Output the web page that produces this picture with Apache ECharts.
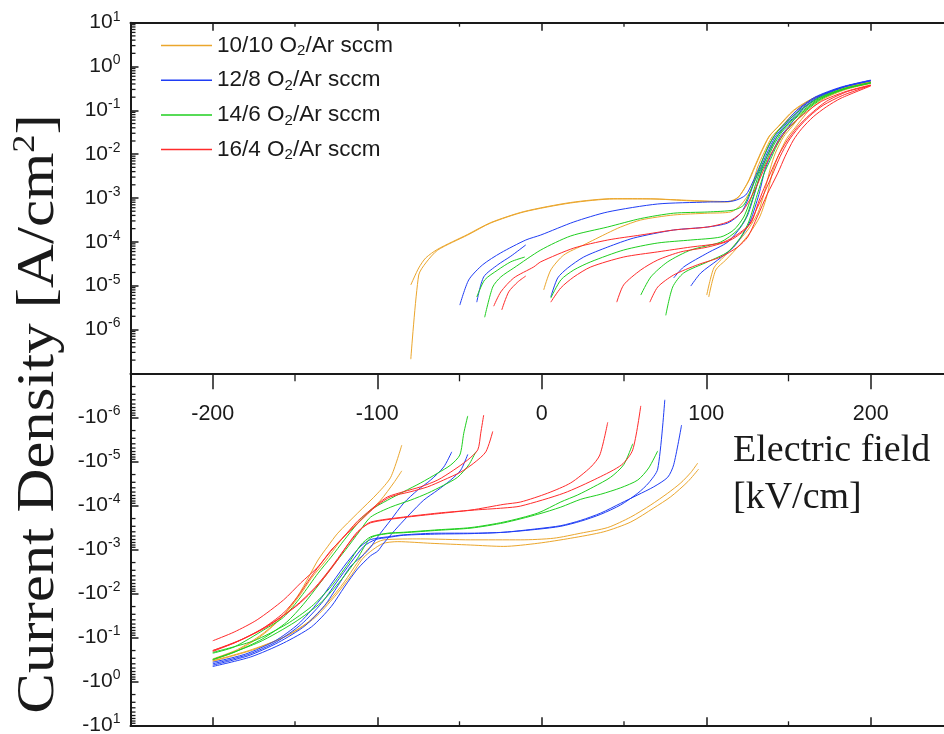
<!DOCTYPE html>
<html>
<head>
<meta charset="utf-8">
<script src="https://cdn.jsdelivr.net/npm/echarts@6/dist/echarts.min.js"></script>
<style>
  html, body { margin: 0; padding: 0; background: #ffffff; }
  #chart { width: 944px; height: 734px; }
</style>
</head>
<body>
<div id="chart"></div>
<script>
// Gas-flow ratios and their trace colours
const ratioNames = ['10/10 O2/Ar sccm', '12/8 O2/Ar sccm', '14/6 O2/Ar sccm', '16/4 O2/Ar sccm'];
const ratioColors = ['#EBA62C', '#1F3DF5', '#1FCF1F', '#FF2B2B'];

// Axis tick values
const xMajorTicks = [-200, -100, 0, 100, 200];
const xMinorTicks = [-150, -50, 50, 150];
const decadeExponents = [-7, -6, -5, -4, -3, -2, -1, 0];
const minorMantissas = [2, 3, 4, 5, 6, 7, 8, 9];

// Positive-current branches: [E (kV/cm), J (A/cm^2)]
const pos1010 = [
  [[-79.6,2.1e-7],[-74.8,1.75e-5],[-70.5,3.3e-5],[-63.2,6.5e-5],[-45,1.43e-4],[-31,2.69e-4],[-10.9,4.8e-4],[17.6,7.7e-4],[43.8,9.5e-4],[66.3,9.5e-4],[90.6,8.6e-4],[113.1,8.1e-4],[119.1,1.0e-3],[125,2.2e-3],[129,4.8e-3],[133,1.06e-2],[138,2.5e-2],[143.5,4.2e-2],[153,0.1],[165,0.19],[182,0.32],[200,0.46]],
  [[-79.6,1.04e-5],[-74.8,2.53e-5],[-70.5,4.3e-5],[-63.2,6.8e-5],[-45,1.48e-4],[-31,2.75e-4],[-10.9,4.9e-4],[17.6,7.9e-4],[43.8,9.7e-4],[66.3,9.6e-4],[90.6,8.8e-4],[113.1,8.3e-4],[119.5,1.05e-3],[125.5,2.3e-3],[129.5,5.0e-3],[133.5,1.1e-2],[138.5,2.6e-2],[144,4.3e-2],[153.5,0.1],[165.5,0.19],[182,0.32],[200,0.45]],
  [[1.2,8.0e-6],[5.5,2.28e-5],[13.4,5.0e-5],[25.5,8.5e-5],[40.1,1.59e-4],[48,2.18e-4],[60.2,3.15e-4],[80.2,4.1e-4],[100.9,4.5e-4],[114.9,4.8e-4],[121,6.9e-4],[127.1,1.52e-3],[131,4.8e-3],[135,1.06e-2],[140,2.5e-2],[145.5,4.2e-2],[155,0.1],[166,0.19],[182,0.32],[200,0.45]],
  [[100.3,6.1e-6],[104.6,2.53e-5],[110.6,4.5e-5],[119.1,9.9e-5],[125.2,1.86e-4],[131.3,4.5e-4],[135,1.2e-3],[139,4.8e-3],[142,1.06e-2],[147,2.5e-2],[152,4.2e-2],[160,0.1],[170,0.19],[184,0.31],[200,0.42]],
  [[101.5,5.5e-6],[105.8,2.28e-5],[111.9,3.85e-5],[120.4,8.5e-5],[126.5,1.59e-4],[132.5,3.7e-4],[136.5,1.0e-3],[140.5,4.2e-3],[144,9.5e-3],[149,2.3e-2],[154,4.0e-2],[162,0.095],[171,0.18],[185,0.30],[200,0.41]]
];
const pos128 = [
  [[-49.8,3.6e-6],[-44.4,1.35e-5],[-35.9,3.0e-5],[-24.9,5.6e-5],[-9.7,1.1e-4],[-0.6,1.43e-4],[19.5,2.84e-4],[40.1,4.8e-4],[70.5,7.3e-4],[100.9,8.1e-4],[116.7,8.6e-4],[124,1.17e-3],[128,2.2e-3],[132,4.8e-3],[136,1.06e-2],[141,2.5e-2],[146,4.2e-2],[155,0.1],[166,0.2],[182,0.34],[200,0.49]],
  [[-39.5,4.2e-6],[-35.3,1.58e-5],[-26.7,3.0e-5],[-18.8,4.7e-5],[-9.7,8.5e-5]],
  [[5.5,5.5e-6],[9.7,1.5e-5],[15.8,2.53e-5],[25.5,4.5e-5],[40.1,7.6e-5],[55.9,1.22e-4],[80.2,1.86e-4],[100.9,2.18e-4],[113.1,2.69e-4],[121,4.5e-4],[125.2,9.0e-4],[129,2.2e-3],[133,4.8e-3],[137,1.06e-2],[142,2.5e-2],[147,4.2e-2],[156,0.1],[167,0.2],[183,0.34],[200,0.48]],
  [[80.2,1.5e-5],[86.3,2.67e-5],[100.9,5.6e-5],[113.1,9.9e-5],[121,2.18e-4],[125.2,4.1e-4],[130,1.5e-3],[134,4.8e-3],[138,1.06e-2],[143,2.5e-2],[148,4.2e-2],[157,0.1],[168,0.2],[183,0.34],[200,0.48]],
  [[90.6,9.8e-6],[96.7,1.95e-5],[107,3.85e-5],[116.7,7.6e-5],[122.8,1.59e-4],[127,3.15e-4],[132,1.2e-3],[136,4.8e-3],[140,1.06e-2],[145,2.5e-2],[150,4.2e-2],[158,0.1],[169,0.2],[184,0.34],[200,0.47]]
];
const pos146 = [
  [[-34.7,1.9e-6],[-29.8,9.3e-6],[-24.9,1.58e-5],[-17,2.53e-5],[-0.6,6.5e-5],[17.6,1.36e-4],[40.1,2.18e-4],[60.2,3.4e-4],[80.2,4.5e-4],[100.9,4.8e-4],[116.7,5.3e-4],[122.8,6.9e-4],[127,1.5e-3],[131,3.5e-3],[134,7e-3],[138,1.6e-2],[143,3.2e-2],[149,5.5e-2],[157,0.1],[168,0.19],[183,0.31],[200,0.43]],
  [[-39.5,5.5e-6],[-34.7,1.35e-5],[-26.7,2.28e-5],[-18.8,3.5e-5],[-10.3,4.5e-5]],
  [[5.5,5.2e-6],[11.6,1.35e-5],[19.5,2.28e-5],[29.8,3.5e-5],[49.8,6.5e-5],[70.5,9.4e-5],[90.6,1.1e-4],[108.8,1.29e-4],[116.7,1.86e-4],[122.8,3.7e-4],[128,1.2e-3],[132,3.5e-3],[136,7.5e-3],[140,1.6e-2],[145,3.2e-2],[151,5.5e-2],[159,0.1],[169,0.19],[184,0.31],[200,0.43]],
  [[60.2,6.1e-6],[66.3,1.58e-5],[76.6,3.5e-5],[90.6,6.5e-5],[108.8,9.9e-5],[119.1,1.86e-4],[124,3.5e-4],[129,1.2e-3],[133,3.5e-3],[137,7.5e-3],[141,1.6e-2],[146,3.2e-2],[152,5.5e-2],[160,0.1],[170,0.19],[184,0.31],[200,0.42]],
  [[75.4,2.1e-6],[79.6,9.3e-6],[86.3,1.95e-5],[100.9,3.5e-5],[113.1,5.9e-5],[121,1.29e-4],[125.8,2.84e-4],[131,1.2e-3],[135,3.5e-3],[139,7.5e-3],[143,1.6e-2],[148,3.2e-2],[154,5.5e-2],[161,0.1],[171,0.19],[185,0.31],[200,0.42]]
];
const pos164 = [
  [[-29.2,3.4e-6],[-24.9,7.2e-6],[-17,1.5e-5],[-4.9,2.67e-5],[-0.6,3.5e-5],[19.5,7.2e-5],[40.1,1.1e-4],[60.2,1.43e-4],[80.2,1.86e-4],[100.9,2.18e-4],[113.1,2.84e-4],[121,4.5e-4],[126,8.5e-4],[131,2.0e-3],[135,4.5e-3],[139,9.5e-3],[144,2.0e-2],[150,4.0e-2],[159,0.08],[170,0.16],[185,0.27],[200,0.38]],
  [[-24.3,2.8e-6],[-20.1,7.2e-6],[-14.6,1.21e-5],[-9.7,1.66e-5]],
  [[5.5,4.2e-6],[11.6,8.9e-6],[19.5,1.58e-5],[29.8,2.67e-5],[49.8,4.5e-5],[70.5,5.9e-5],[90.6,7.6e-5],[108.8,9.4e-5],[116.7,1.29e-4],[127.1,2.69e-4],[132,8.5e-4],[136,2.0e-3],[140,4.5e-3],[144,9.5e-3],[149,2.0e-2],[155,4.0e-2],[163,0.08],[173,0.16],[186,0.27],[200,0.37]],
  [[45.6,4.2e-6],[49.8,1.04e-5],[60.2,2.28e-5],[70.5,3.85e-5],[84.5,5.9e-5],[100.9,7.6e-5],[114.9,1.1e-4],[125.2,2.18e-4],[131,6e-4],[136,1.5e-3],[141,4.0e-3],[145,9e-3],[150,2.0e-2],[156,4.0e-2],[163,7.5e-2],[171,0.13],[183,0.22],[200,0.37]],
  [[65.7,4.2e-6],[70.5,9.3e-6],[80.2,1.75e-5],[94.8,3.0e-5],[108.8,4.5e-5],[119.1,7.6e-5],[125.2,1.29e-4],[131,3.7e-4],[137,1.2e-3],[143.5,3.7e-3],[148,9e-3],[153,2.1e-2],[158,3.8e-2],[165,7.1e-2],[173,0.12],[182,0.19],[200,0.36]]
];

// Negative-current branches: [E (kV/cm), J (A/cm^2)]
const neg1010 = [
  [[-200,-0.33],[-185,-0.2],[-170,-0.09],[-158,-0.035],[-148,-0.011],[-142,-4.5e-3],[-136,-1.75e-3],[-130,-8.5e-4],[-124,-4.3e-4],[-111.9,-1.5e-4],[-99.7,-5.3e-5],[-91.8,-2.3e-5],[-85.1,-4.3e-6]],
  [[-200,-0.31],[-185,-0.19],[-170,-0.085],[-157,-0.032],[-147,-0.011],[-140,-4.5e-3],[-131,-1.75e-3],[-120.4,-5.2e-4],[-108.2,-1.85e-4],[-97.9,-7.6e-5],[-90,-3.1e-5],[-85.1,-1.65e-5]],
  [[-200,-0.34],[-178,-0.2],[-157,-0.1],[-142,-0.045],[-130,-0.016],[-120,-5.5e-3],[-112,-2.0e-3],[-104,-8.5e-4],[-96,-6.1e-4],[-73.6,-5.8e-4],[-43.2,-6.1e-4],[-12.8,-6.1e-4],[7.3,-5.6e-4],[23.7,-4.3e-4],[40.1,-3.2e-4],[54.1,-1.85e-4],[66.3,-9.8e-5],[76.6,-5.3e-5],[84.5,-3.1e-5],[90.6,-1.8e-5],[94.8,-1.1e-5]],
  [[-200,-0.35],[-175,-0.19],[-153,-0.085],[-138,-0.036],[-126,-0.012],[-116,-4.0e-3],[-108,-1.5e-3],[-97,-7.5e-4],[-87.5,-6.7e-4],[-67.5,-7.3e-4],[-43.2,-8.0e-4],[-23.1,-8.6e-4],[-2.4,-7.3e-4],[17.6,-5.6e-4],[37.7,-4.0e-4],[54.1,-2.4e-4],[68.1,-1.15e-4],[78.4,-6.4e-5],[88.8,-2.9e-5],[95.4,-1.5e-5]]
];
const neg128 = [
  [[-200,-0.43],[-178,-0.26],[-160,-0.13],[-144,-0.055],[-132,-0.019],[-124,-6.8e-3],[-116,-2.4e-3],[-108,-1.3e-3],[-104,-8.9e-4],[-99.7,-5.2e-4],[-91.8,-2.16e-4],[-83.9,-8.9e-5],[-75.4,-4.5e-5],[-67.5,-2.66e-5],[-59.6,-1.35e-5],[-54.7,-6.1e-6]],
  [[-200,-0.46],[-177,-0.28],[-157,-0.135],[-140,-0.058],[-128,-0.020],[-120,-7.2e-3],[-112,-2.8e-3],[-104,-1.4e-3],[-99.7,-1.1e-3],[-96,-7.2e-4],[-87.5,-3.1e-4],[-79.6,-1.5e-4],[-71.7,-7.6e-5],[-63.2,-4.5e-5],[-55.3,-2.66e-5],[-49.2,-1.58e-5],[-45,-7.0e-6]],
  [[-200,-0.37],[-180,-0.24],[-162,-0.12],[-148,-0.05],[-136,-0.016],[-127,-5.5e-3],[-118,-1.9e-3],[-110,-8.5e-4],[-104,-6.0e-4],[-93.6,-5.2e-4],[-84,-4.7e-4],[-63,-4.3e-4],[-43,-4.3e-4],[-23,-4.1e-4],[-2.4,-3.5e-4],[11.6,-3.0e-4],[23.7,-2.3e-4],[35.9,-1.6e-4],[48,-9.8e-5],[58.4,-5.3e-5],[65,-3.1e-5],[70.5,-1.5e-5],[74.8,-4.0e-7]],
  [[-200,-0.40],[-179,-0.25],[-161,-0.125],[-146,-0.05],[-134,-0.017],[-125,-5.8e-3],[-116,-2.0e-3],[-108,-8.5e-4],[-101,-6.0e-4],[-93.6,-5.4e-4],[-84,-4.8e-4],[-63,-4.5e-4],[-43,-4.4e-4],[-23,-4.1e-4],[-2.4,-3.4e-4],[11.6,-2.9e-4],[23.7,-2.2e-4],[35.9,-1.5e-4],[48,-9.0e-5],[58.4,-5.8e-5],[68.1,-3.8e-5],[76.6,-2.3e-5],[80.2,-1.2e-5],[85,-1.5e-6]]
];
const neg146 = [
  [[-200,-0.23],[-187,-0.166],[-169,-0.068],[-157,-0.035],[-146.5,-0.0121],[-136,-3.5e-3],[-128,-1.5e-3],[-120,-6.1e-4],[-112,-2.6e-4],[-104,-1.28e-4],[-93.6,-7.6e-5],[-83.9,-4.9e-5],[-73.6,-3.1e-5],[-63.2,-1.85e-5],[-55.3,-1.21e-5],[-49.8,-7.2e-6],[-47.4,-2.3e-6],[-45,-9.3e-7]],
  [[-200,-0.32],[-187,-0.22],[-170,-0.11],[-155,-0.045],[-145,-0.018],[-135,-6e-3],[-127,-2.4e-3],[-119,-1.0e-3],[-111,-4.0e-4],[-104,-1.85e-4],[-91.8,-1.1e-4],[-79.6,-7.6e-5],[-69.3,-5.3e-5],[-59.6,-3.5e-5],[-51.1,-2.3e-5],[-44.4,-1.21e-5],[-40.1,-6.1e-6]],
  [[-200,-0.22],[-175,-0.12],[-155,-0.05],[-140,-0.02],[-128,-7e-3],[-118,-2.2e-3],[-110,-8e-4],[-104,-5.2e-4],[-93.6,-4.3e-4],[-84,-4.1e-4],[-63,-3.6e-4],[-43,-3.2e-4],[-23,-2.4e-4],[-2.4,-1.5e-4],[11.6,-8.4e-5],[21.9,-5.8e-5],[31.6,-3.8e-5],[41.9,-2.3e-5],[49.8,-1.2e-5],[55.3,-4.0e-6]],
  [[-200,-0.32],[-172,-0.13],[-150,-0.045],[-134,-0.016],[-122,-5e-3],[-112,-1.6e-3],[-104,-5.5e-4],[-93.6,-4.4e-4],[-84,-4.2e-4],[-63,-3.7e-4],[-43,-3.3e-4],[-23,-2.5e-4],[-2.4,-1.6e-4],[11.6,-1.1e-4],[23.7,-7.3e-5],[35.9,-5.6e-5],[48,-4.0e-5],[58.4,-2.66e-5],[65,-1.42e-5],[70.5,-5.8e-6]]
];
const neg164 = [
  [[-200,-0.12],[-187,-0.076],[-173,-0.04],[-157,-0.0142],[-146.5,-5.8e-3],[-136,-2.5e-3],[-128,-1.04e-3],[-122,-6.1e-4],[-112,-2.3e-4],[-100,-9.5e-5],[-93.6,-6.4e-5],[-83.9,-4.9e-5],[-73.6,-3.8e-5],[-63.2,-2.66e-5],[-53.5,-1.58e-5],[-45,-9.3e-6],[-38.9,-5.5e-6],[-37.1,-2.3e-6],[-35.3,-8.9e-7]],
  [[-200,-0.2],[-187,-0.135],[-171,-0.068],[-157,-0.028],[-148.5,-0.0121],[-140.4,-4.3e-3],[-132.5,-1.75e-3],[-124,-7.2e-4],[-112,-2.6e-4],[-100,-1.0e-4],[-91.8,-6.4e-5],[-79.6,-4.9e-5],[-69.3,-3.8e-5],[-59.6,-2.66e-5],[-49.2,-1.75e-5],[-41.3,-1.1e-5],[-34,-6.1e-6],[-29.8,-2.1e-6]],
  [[-200,-0.2],[-182,-0.11],[-165,-0.05],[-148,-0.018],[-136,-6.5e-3],[-126,-2.2e-3],[-118,-8e-4],[-110,-3.5e-4],[-104,-2.4e-4],[-84,-1.85e-4],[-63,-1.5e-4],[-43,-1.28e-4],[-23,-9.5e-5],[-12.8,-8.4e-5],[3.6,-5.3e-5],[17.6,-3.1e-5],[29.8,-1.35e-5],[35.3,-7.2e-6],[40.1,-1.3e-6]],
  [[-200,-0.21],[-184,-0.12],[-166,-0.055],[-150,-0.02],[-138,-7.5e-3],[-128,-2.6e-3],[-120,-1.0e-3],[-112,-4e-4],[-104,-2.5e-4],[-84,-1.9e-4],[-63,-1.55e-4],[-43,-1.3e-4],[-23,-1.15e-4],[-12.8,-1.04e-4],[13.4,-5.3e-5],[34,-2.4e-5],[48.6,-1.2e-5],[55.3,-5.5e-6],[60.2,-5.5e-7]]
];

const positiveSets = [pos1010, pos128, pos146, pos164];
const negativeSets = [neg1010, neg128, neg146, neg164];

const SANS = '"Liberation Sans", Arial, sans-serif';
const SERIF = '"Liberation Serif", "Times New Roman", serif';
const INK = '#1a1a1a';

const X_MIN = -250, X_MAX = 250;
const J_MIN = 1e-7, J_MAX = 10;

const chart = echarts.init(document.getElementById('chart'), null, { renderer: 'canvas' });

const labelRich = {
  b: { fontFamily: SANS, fontSize: 21, lineHeight: 26, color: INK },
  sup: { fontFamily: SANS, fontSize: 14, lineHeight: 12, verticalAlign: 'top', color: INK }
};

function decadeLabel(prefix) {
  return function (value) {
    const e = Math.round(Math.log10(value));
    if (e <= -7) return '';
    return '{b|' + prefix + '10}{sup|' + e + '}';
  };
}

// minor tick marks drawn through the axes' own coordinate system
function tickMarks(gridIdx, data, dx, dy) {
  return {
    type: 'custom',
    xAxisIndex: gridIdx === 0 ? 0 : 2,
    yAxisIndex: gridIdx,
    silent: true,
    clip: false,
    z: 10,
    data: data,
    encode: { x: 0, y: 1 },
    renderItem: function (params, api) {
      const p = api.coord([api.value(0), api.value(1)]);
      return {
        type: 'line',
        shape: { x1: p[0], y1: p[1], x2: p[0] + dx, y2: p[1] + dy },
        style: { stroke: INK, lineWidth: 1.3 }
      };
    }
  };
}

const yMinorValues = [];
decadeExponents.forEach(e => minorMantissas.forEach(m => yMinorValues.push([X_MIN, m * Math.pow(10, e)])));

const series = [];
ratioNames.forEach((name, i) => {
  const base = {
    type: 'line',
    name: name,
    color: ratioColors[i],
    showSymbol: false,
    symbol: 'none',
    smooth: 0.25,
    lineStyle: { width: 1, color: ratioColors[i] },
    itemStyle: { color: ratioColors[i] },
    animation: false,
    silent: true
  };
  positiveSets[i].forEach(curve => {
    series.push(Object.assign({}, base, { xAxisIndex: 0, yAxisIndex: 0, data: curve }));
  });
  negativeSets[i].forEach(curve => {
    // the lower panel plots |J| on a mirrored log axis
    series.push(Object.assign({}, base, { xAxisIndex: 2, yAxisIndex: 1, data: curve.map(p => [p[0], Math.abs(p[1])]) }));
  });
});

series.push(tickMarks(0, yMinorValues, 5, 0));
series.push(tickMarks(1, yMinorValues, 5, 0));
series.push(tickMarks(0, xMinorTicks.map(x => [x, J_MAX]), 0, 4));
series.push(tickMarks(0, xMinorTicks.map(x => [x, J_MIN]), 0, 8));
series.push(tickMarks(1, xMinorTicks.map(x => [x, J_MAX]), 0, -4));

const axisLine = { show: true, onZero: false, lineStyle: { color: INK, width: 2 } };

const option = {
  backgroundColor: '#ffffff',
  animation: false,
  grid: [
    { left: 130.5, top: 22.7, width: 822.5, height: 350.6, containLabel: false, outerBoundsMode: 'none' },
    { left: 130.5, top: 373.3, width: 822.5, height: 352, containLabel: false, outerBoundsMode: 'none' }
  ],
  xAxis: [
    {
      gridIndex: 0, type: 'value', position: 'bottom', min: X_MIN, max: X_MAX,
      axisLine: axisLine,
      axisTick: { show: true, inside: false, length: 16, customValues: xMajorTicks, lineStyle: { color: INK, width: 1.5 } },
      axisLabel: { show: true, customValues: xMajorTicks, margin: 30, fontFamily: SANS, fontSize: 21.5, color: INK },
      splitLine: { show: false }
    },
    {
      gridIndex: 0, type: 'value', position: 'top', min: X_MIN, max: X_MAX,
      axisLine: axisLine,
      axisTick: { show: true, inside: true, length: 8, customValues: xMajorTicks, lineStyle: { color: INK, width: 1.5 } },
      axisLabel: { show: false },
      splitLine: { show: false }
    },
    {
      gridIndex: 1, type: 'value', position: 'bottom', min: X_MIN, max: X_MAX,
      axisLine: axisLine,
      axisTick: { show: true, inside: true, length: 8, customValues: xMajorTicks, lineStyle: { color: INK, width: 1.5 } },
      axisLabel: { show: false },
      splitLine: { show: false }
    }
  ],
  yAxis: [
    {
      gridIndex: 0, type: 'log', logBase: 10, min: J_MIN, max: J_MAX, splitNumber: 8,
      axisLine: axisLine,
      axisTick: { show: true, inside: true, length: 8, lineStyle: { color: INK, width: 1.5 } },
      axisLabel: { show: true, margin: 10, formatter: decadeLabel(''), rich: labelRich },
      splitLine: { show: false }
    },
    {
      gridIndex: 1, type: 'log', logBase: 10, min: J_MIN, max: J_MAX, splitNumber: 8, inverse: true,
      axisLine: axisLine,
      axisTick: { show: true, inside: true, length: 8, lineStyle: { color: INK, width: 1.5 } },
      axisLabel: { show: true, margin: 10, formatter: decadeLabel('-'), rich: labelRich },
      splitLine: { show: false }
    }
  ],
  legend: {
    orient: 'vertical',
    left: 156,
    top: 29,
    itemWidth: 51,
    itemHeight: 1.5,
    itemGap: 10.2,
    icon: 'rect',
    data: ratioNames,
    formatter: function (name) {
      const parts = name.split('O2');
      return '{b|' + parts[0] + 'O}{sub|2}{b|' + parts[1] + '}';
    },
    textStyle: {
      rich: {
        b: { fontFamily: SANS, fontSize: 22.5, lineHeight: 26, color: INK },
        sub: { fontFamily: SANS, fontSize: 15, lineHeight: 12, verticalAlign: 'bottom', color: INK }
      }
    }
  },
  graphic: [
    {
      type: 'text', x: 39, y: 414, rotation: Math.PI / 2, scaleX: 1.17, scaleY: 1,
      style: {
        text: '{t|Current Density [A/cm}{s|2}{t|]}',
        align: 'center', verticalAlign: 'middle',
        rich: {
          t: { fontFamily: SERIF, fontSize: 52, lineHeight: 58, fill: INK, color: INK },
          s: { fontFamily: SERIF, fontSize: 31, lineHeight: 29, verticalAlign: 'top', fill: INK, color: INK }
        }
      }
    },
    {
      type: 'text', x: 733, y: 451,
      style: { text: 'Electric field', font: '38px ' + SERIF, fill: INK, verticalAlign: 'middle' }
    },
    {
      type: 'text', x: 733, y: 498,
      style: { text: '[kV/cm]', font: '38px ' + SERIF, fill: INK, verticalAlign: 'middle' }
    }
  ],
  series: series
};

chart.setOption(option);
</script>
</body>
</html>
